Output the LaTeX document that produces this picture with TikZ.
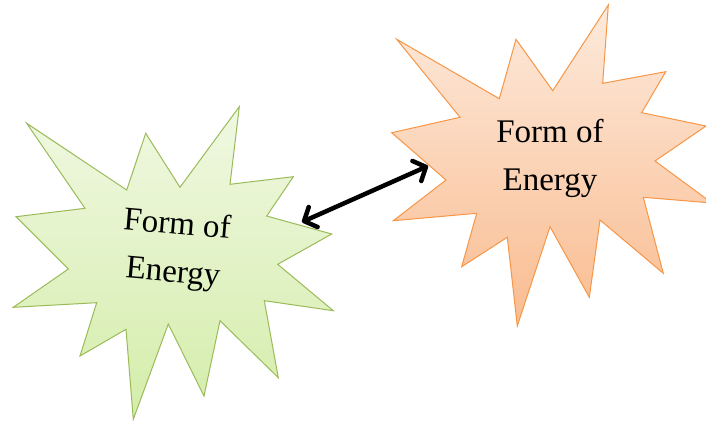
\documentclass[tikz,border=0pt]{standalone}
\usepackage{fontspec}
\setmainfont{Liberation Serif}
\usetikzlibrary{arrows.meta}
\definecolor{leafln}{HTML}{9BBB59}
\definecolor{leaftop}{HTML}{F0F8E2}
\definecolor{leafbot}{HTML}{D4EDAA}
\definecolor{peachln}{HTML}{F79646}
\definecolor{peachtop}{HTML}{FDEADC}
\definecolor{peachbot}{HTML}{F9BC90}
\tikzset{fig/.style={x=1pt,y=-1pt,line join=miter},
  burst/.style={line width=1pt},
  lbl/.style={font=\fontsize{33}{48}\selectfont,align=center,inner sep=0pt},
  link/.style={line width=4.5pt,line cap=round,{Straight Barb[length=10pt,width=22pt,round]}-{Straight Barb[length=10pt,width=22pt,round]}}}

\begin{document}
\begin{tikzpicture}[fig]
  \useasboundingbox (0,0) rectangle (706,423);
  \clip (0,0) rectangle (706,423);
  % left burst
  \draw[burst,leafln,top color=leaftop,bottom color=leafbot]
    (26.7,123.3)--(126.7,190)--(145.7,133.3)--(180,187.3)--(239.3,106.7)--(230,184.3)--(293.3,176.7)--(266.7,216)
    --(331.7,234)--(277.7,264.3)--(333.3,310.7)--(264.3,300.7)--(278.3,377.7)--(220,320.7)--(204,396)--(168.3,324)
    --(133.3,419.3)--(126,329.3)--(80,356)--(96.7,302.7)--(13.3,307.3)--(68.3,269)--(16,216.7)--(85,208.3)--cycle;
  % right burst
  \draw[burst,peachln,top color=peachtop,bottom color=peachbot]
    (396.7,39.3)--(499.3,98.7)--(516,39.3)--(552.7,90.7)--(608.3,5)--(602.7,83.3)--(665.7,71.7)--(641.7,112.7)
    --(706,126)--(655,161)--(712,203)--(643.3,197.3)--(663.3,273.3)--(600,220)--(589.3,297.3)--(550,226.7)
    --(517.3,326)--(507.3,237.3)--(461.7,266.7)--(476.7,213.3)--(393.3,220.7)--(446,180)--(391.7,132.7)--(460,117.3)--cycle;
  \node[lbl,rotate=-5] (formA) at (175,250) {Form of\\Energy};
  \node[lbl] (formB) at (550,158) {Form of\\Energy};
  \coordinate (endA) at (302,222);
  \coordinate (endB) at (428,166);
  \draw[link] (endA)--(endB);
\end{tikzpicture}
\end{document}
